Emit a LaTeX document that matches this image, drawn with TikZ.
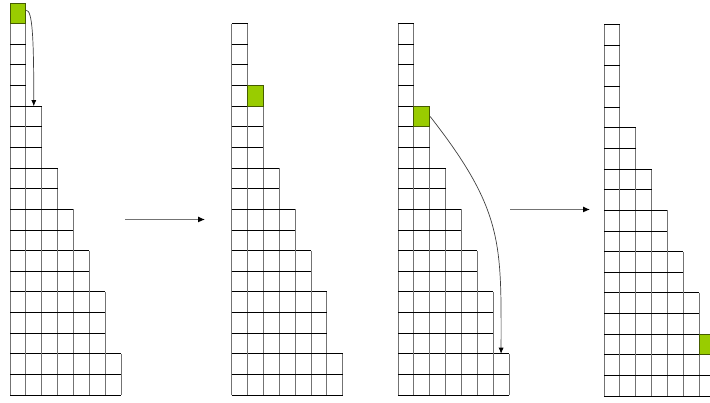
\documentclass[tikz,border=0pt]{standalone}
\usepackage{xcolor}
\usepackage{tikz}
\usetikzlibrary{arrows.meta}

\definecolor{cellgreen}{HTML}{99CC00}

\begin{document}
\begin{tikzpicture}[x=1pt, y=1pt,
  hline/.style={draw=black, line width=0.85pt},
  vline/.style={draw=black!55, line width=0.85pt},
  moved/.style={draw=cellgreen!45!black, fill=cellgreen, line width=0.85pt,
    minimum width=15.86pt, minimum height=20.63pt, inner sep=0pt},
  jump/.style={draw=black!75, line width=0.7pt, -{Latex[length=6pt,width=5pt,black]}},
  pass/.style={draw=black!55, line width=1pt, -{Latex[length=7pt,width=6pt,black]}}]
  \useasboundingbox (0,0) rectangle (710,403);

  % Diagramme 1 (19 lignes, bloc du haut en vert)
  \begin{scope}[shift={(10pt,8pt)}, x=15.86pt, y=20.63pt]
    \foreach \w [count=\r] in {7,7,6,6,6,5,5,4,4,3,3,2,2,2,1,1,1,1,1} {
      \foreach \c in {1,...,\w} {
        \draw[vline] (\c-1,\r-1) -- (\c-1,\r) (\c,\r-1) -- (\c,\r);
        \draw[hline] (\c-1,\r-1) -- (\c,\r-1) (\c-1,\r) -- (\c,\r);
      }
    }
    \node[moved] (g1) at (0.5,18.5) {};
    \coordinate (t1) at (1.5,14);
  \end{scope}

  % Diagramme 2
  \begin{scope}[shift={(231.7pt,8pt)}, x=15.86pt, y=20.63pt]
    \foreach \w [count=\r] in {7,7,6,6,6,5,5,4,4,3,3,2,2,2,2,1,1,1} {
      \foreach \c in {1,...,\w} {
        \draw[vline] (\c-1,\r-1) -- (\c-1,\r) (\c,\r-1) -- (\c,\r);
        \draw[hline] (\c-1,\r-1) -- (\c,\r-1) (\c-1,\r) -- (\c,\r);
      }
    }
    \node[moved] (g2) at (1.5,14.5) {};
  \end{scope}

  % Diagramme 3
  \begin{scope}[shift={(398pt,8pt)}, x=15.86pt, y=20.63pt]
    \foreach \w [count=\r] in {7,7,6,6,6,5,5,4,4,3,3,2,2,2,1,1,1,1} {
      \foreach \c in {1,...,\w} {
        \draw[vline] (\c-1,\r-1) -- (\c-1,\r) (\c,\r-1) -- (\c,\r);
        \draw[hline] (\c-1,\r-1) -- (\c,\r-1) (\c-1,\r) -- (\c,\r);
      }
    }
    \node[moved] (g3) at (1.5,13.5) {};
    \coordinate (t3) at (6.5,2);
  \end{scope}

  % Diagramme 4
  \begin{scope}[shift={(604pt,7pt)}, x=15.86pt, y=20.63pt]
    \foreach \w [count=\r] in {7,7,7,6,6,5,5,4,4,3,3,2,2,1,1,1,1,1} {
      \foreach \c in {1,...,\w} {
        \draw[vline] (\c-1,\r-1) -- (\c-1,\r) (\c,\r-1) -- (\c,\r);
        \draw[hline] (\c-1,\r-1) -- (\c,\r-1) (\c-1,\r) -- (\c,\r);
      }
    }
    \node[moved] (g4) at (6.5,2.5) {};
  \end{scope}

  % Deplacements des blocs
  \draw[jump] (g1.20) to[out=0, in=90, out distance=6pt, in distance=70pt] (t1);
  \draw[jump] (g3.east) to[out=-52, in=90, out distance=120pt, in distance=110pt] (t3);

  % Passages entre diagrammes
  \coordinate (a1) at (125,183.5);
  \coordinate (b1) at (205,183.5);
  \coordinate (a2) at (510,193.5);
  \coordinate (b2) at (590,193.5);
  \draw[pass] (a1) -- (b1);
  \draw[pass] (a2) -- (b2);
\end{tikzpicture}
\end{document}
